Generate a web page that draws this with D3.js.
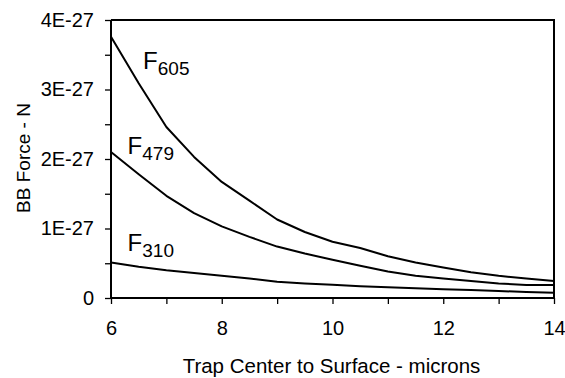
<!DOCTYPE html>
<html>
<head>
<meta charset="utf-8">
<script src="https://cdn.jsdelivr.net/npm/d3@7"></script>
<style>
  body { margin: 0; background: #fff; }
  svg { display: block; font-family: "Liberation Sans", Arial, sans-serif; }
</style>
</head>
<body>
<svg id="chart" width="565" height="378"></svg>
<script>
// distance from trap center to surface (microns)
const distance = [6, 6.5, 7, 7.5, 8, 8.5, 9, 9.5, 10, 10.5, 11, 11.5, 12, 12.5, 13, 13.5, 14];

// BB force, in units of 1E-27 N
const f605 = [3.76, 3.09, 2.46, 2.03, 1.67, 1.40, 1.13, 0.95, 0.81, 0.72, 0.60, 0.51, 0.44, 0.37, 0.32, 0.28, 0.245];
const f479 = [2.10, 1.78, 1.47, 1.22, 1.03, 0.88, 0.74, 0.64, 0.55, 0.465, 0.38, 0.32, 0.28, 0.245, 0.21, 0.187, 0.187];
const f310 = [0.51, 0.45, 0.40, 0.36, 0.32, 0.28, 0.235, 0.21, 0.19, 0.17, 0.154, 0.14, 0.127, 0.115, 0.10, 0.088, 0.076];

const seriesNames = ["605", "479", "310"];
const xTicks = [6, 8, 10, 12, 14];
const yTickLabels = ["0", "1E-27", "2E-27", "3E-27", "4E-27"];

const margin = { top: 20, right: 11, bottom: 80, left: 111 },
  width = 565 - margin.left - margin.right,
  height = 378 - margin.top - margin.bottom;

const svg = d3.select("#chart");
const g = svg.append("g").attr("transform", `translate(${margin.left},${margin.top})`);

const xScale = d3.scaleLinear().domain([6, 14]).range([0, width]);
const yScale = d3.scaleLinear().domain([0, 4]).range([height, 0]);

// frame: top and right edges
g.append("path")
  .attr("d", `M0,0H${width}V${height}`)
  .attr("fill", "none")
  .attr("stroke", "#000")
  .attr("stroke-width", 2);

// x axis (major ticks labelled, minor ticks at odd values)
const xAxis = g.append("g")
  .attr("transform", `translate(0,${height})`)
  .call(d3.axisBottom(xScale).tickValues(d3.range(6, 14.01, 1)).tickSize(6).tickPadding(17)
    .tickFormat(d => xTicks.includes(d) ? d : ""));
xAxis.select(".domain").attr("stroke-width", 2).attr("d", `M0,0H${width}`);
xAxis.selectAll("line").attr("stroke-width", 1.3);
xAxis.selectAll("text").attr("font-size", 20).attr("fill", "#000")
  .attr("font-family", "'Liberation Sans', Arial, sans-serif");

// y axis (labels at integers, minor ticks at halves)
const yAxis = g.append("g")
  .call(d3.axisLeft(yScale).tickValues(d3.range(0, 4.01, 0.5)).tickSize(6).tickPadding(11)
    .tickFormat(d => Number.isInteger(d) ? yTickLabels[d] : ""));
yAxis.select(".domain").attr("stroke-width", 2).attr("d", `M0,${height}V0`);
yAxis.selectAll("line").attr("stroke-width", 1.3);
yAxis.selectAll("text").attr("font-size", 20).attr("fill", "#000")
  .attr("font-family", "'Liberation Sans', Arial, sans-serif");

// curves
const line = d3.line()
  .x((d, i) => xScale(distance[i]))
  .y(d => yScale(d));

g.selectAll(".force-line")
  .data([f605, f479, f310])
  .join("path")
  .attr("class", "force-line")
  .attr("d", line)
  .attr("fill", "none")
  .attr("stroke", "#000")
  .attr("stroke-width", 2)
  .attr("stroke-linejoin", "round");

// curve labels, placed in data coordinates
const labelPos = [
  { x: 6.58, y: 3.3 },
  { x: 6.3, y: 2.07 },
  { x: 6.3, y: 0.67 }
];
const labels = g.selectAll(".curve-label")
  .data(seriesNames)
  .join("text")
  .attr("class", "curve-label")
  .attr("x", (d, i) => xScale(labelPos[i].x))
  .attr("y", (d, i) => yScale(labelPos[i].y))
  .attr("fill", "#000");
labels.append("tspan").attr("font-size", 24).text("F");
labels.append("tspan").attr("font-size", 19).attr("dy", 6).text(d => d);

// axis titles
svg.append("text")
  .attr("x", margin.left + width / 2 - 1)
  .attr("y", 373)
  .attr("text-anchor", "middle")
  .attr("font-size", 20.5)
  .text("Trap Center to Surface - microns");

svg.append("text")
  .attr("transform", "translate(30,158) rotate(-90)")
  .attr("text-anchor", "middle")
  .attr("font-size", 19)
  .text("BB Force - N");
</script>
</body>
</html>
